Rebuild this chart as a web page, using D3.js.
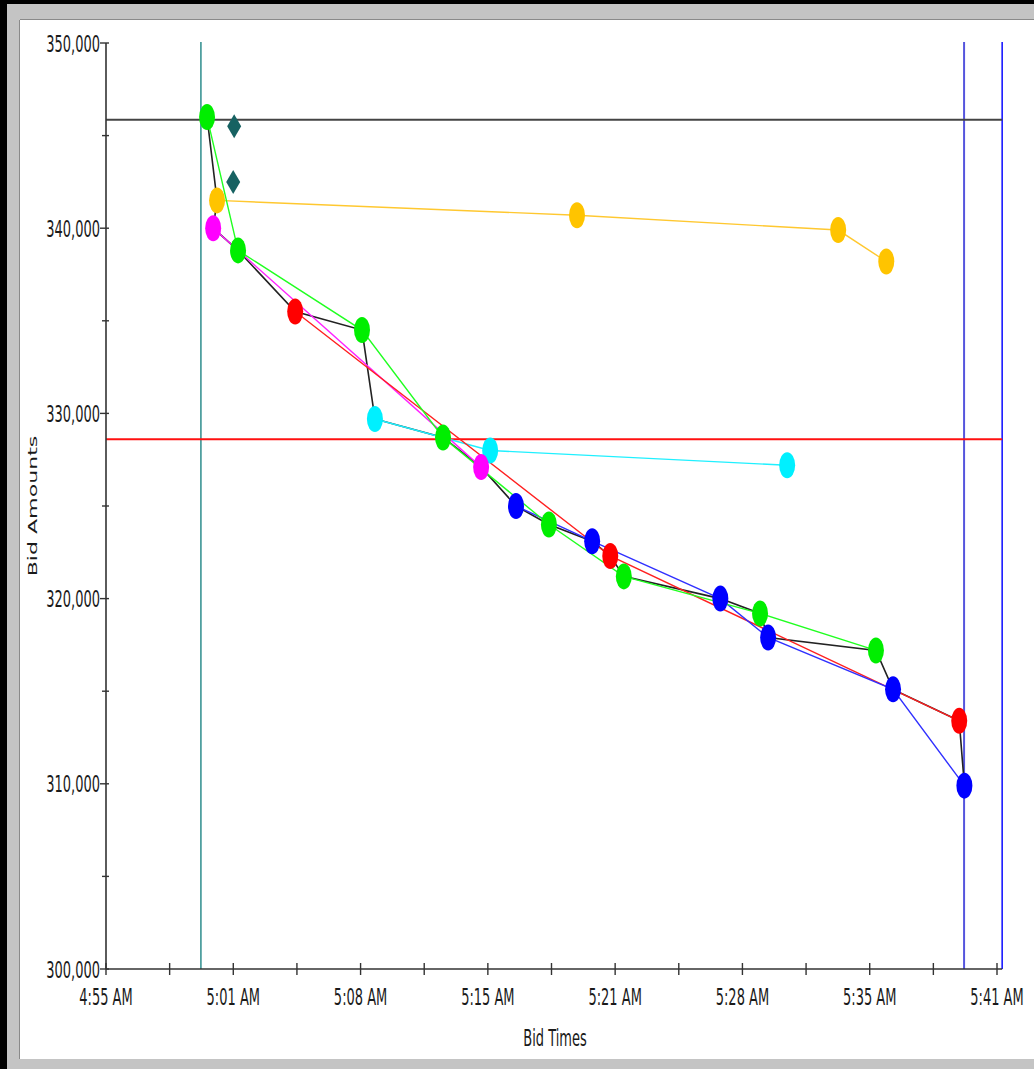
<!DOCTYPE html>
<html>
<head>
<meta charset="utf-8">
<script src="https://cdn.jsdelivr.net/npm/d3@7/dist/d3.min.js"></script>
<style>
  html, body { margin: 0; padding: 0; background: #000; }
  svg { display: block; }
  text { font-family: "DejaVu Sans", Verdana, sans-serif; fill: #1a1a1a; }
</style>
</head>
<body>
<svg id="chart" width="1034" height="1069"></svg>
<script>
// ---------------- DATA ----------------
const xStart = "4:55:00";
const xEnd = "5:41:00";
const xTickCount = 14;
const xTickLabels = ["4:55 AM", "5:01 AM", "5:08 AM", "5:15 AM", "5:21 AM", "5:28 AM", "5:35 AM", "5:41 AM"];
const yMin = 300000, yMax = 350000;
const yMajorTicks = [300000, 310000, 320000, 330000, 340000, 350000];
const yMinorTicks = [305000, 315000, 325000, 335000, 345000];

const greenTimes = ["5:00:13", "5:01:49", "5:08:13", "5:12:24", "5:17:52", "5:21:44", "5:28:46", "5:34:45"];
const greenBids  = [346000, 338800, 334500, 328700, 324000, 321200, 319200, 317200];

const orangeTimes = ["5:00:44", "5:19:19", "5:32:48", "5:35:17"];
const orangeBids  = [341500, 340700, 339900, 338200];

const magentaTimes = ["5:00:32", "5:14:22"];
const magentaBids  = [340000, 327100];

const redTimes = ["5:04:46", "5:21:02", "5:39:03"];
const redBids  = [335500, 322300, 313400];

const cyanTimes = ["5:08:53", "5:14:50", "5:30:10"];
const cyanBids  = [329700, 328000, 327200];

const blueTimes = ["5:16:10", "5:20:06", "5:26:43", "5:29:11", "5:35:38", "5:39:19"];
const blueBids  = [325000, 323100, 320000, 317900, 315100, 309900];

const diamondTimes = ["5:01:37", "5:01:34"];
const diamondBids  = [345500, 342500];

// leading (lowest) bid line
const leadTimes = ["5:00:13", "5:00:44", "5:00:32", "5:01:49", "5:04:46", "5:08:13", "5:08:53", "5:12:24", "5:14:22",
                   "5:16:10", "5:17:52", "5:20:06", "5:21:02", "5:21:44", "5:26:43", "5:28:46", "5:29:11", "5:34:45",
                   "5:35:38", "5:39:03", "5:39:19"];
const leadBids  = [346000, 341500, 340000, 338800, 335500, 334500, 329700, 328700, 327100,
                   325000, 324000, 323100, 322300, 321200, 320000, 319200, 317900, 317200,
                   315100, 313400, 309900];

const refHorizontalBids = [345850, 328600];
const refVerticalTimes = ["4:59:54", "5:39:18", "5:41:16"];

// ---------------- DRAW ----------------
const parse = d3.timeParse("%H:%M:%S");
const svg = d3.select("#chart");

// frame
svg.append("rect").attr("x", 7).attr("y", 4).attr("width", 1027).attr("height", 1065).attr("fill", "#c4c4c4");
svg.append("rect").attr("x", 20).attr("y", 20).attr("width", 1014).attr("height", 1039).attr("fill", "#ffffff");
svg.append("line").attr("x1", 19.5).attr("y1", 20).attr("x2", 19.5).attr("y2", 1059).attr("stroke", "#8a8a8a").attr("stroke-width", 1);
svg.append("line").attr("x1", 20).attr("y1", 19.5).attr("x2", 1034).attr("y2", 19.5).attr("stroke", "#8a8a8a").attr("stroke-width", 1);

const t0 = parse(xStart), t1 = parse(xEnd);
const x = d3.scaleTime().domain([t0, t1]).range([106, 997]);
const y = d3.scaleLinear().domain([yMin, yMax]).range([969, 43]);

const xAxisEnd = x(parse(refVerticalTimes[2]));

// reference vertical lines
const vColors = ["#3a9494", "#5555dd", "#1a1aff"];
const vWidths = [1.6, 2, 1.6];
refVerticalTimes.forEach((t, i) => {
  svg.append("line")
    .attr("x1", x(parse(t))).attr("x2", x(parse(t)))
    .attr("y1", y(yMax) - 1).attr("y2", y(yMin))
    .attr("stroke", vColors[i]).attr("stroke-width", vWidths[i]);
});

// reference horizontal lines
const hColors = ["#444444", "#ff1010"];
refHorizontalBids.forEach((b, i) => {
  svg.append("line")
    .attr("x1", 106).attr("x2", xAxisEnd)
    .attr("y1", y(b)).attr("y2", y(b))
    .attr("stroke", hColors[i]).attr("stroke-width", 2);
});

// axes
const axisG = svg.append("g");
axisG.append("line").attr("x1", 106).attr("x2", 106).attr("y1", y(yMax)).attr("y2", y(yMin))
  .attr("stroke", "#333").attr("stroke-width", 1.6);
axisG.append("line").attr("x1", 106).attr("x2", xAxisEnd).attr("y1", y(yMin)).attr("y2", y(yMin))
  .attr("stroke", "#333").attr("stroke-width", 1.6);

yMajorTicks.forEach(v => {
  axisG.append("line").attr("x1", 100).attr("x2", 109).attr("y1", y(v)).attr("y2", y(v))
    .attr("stroke", "#333").attr("stroke-width", 1.4);
  axisG.append("text")
    .attr("transform", `translate(100,${y(v) + 8.5}) scale(1,1.7)`)
    .attr("text-anchor", "end").attr("font-size", 13)
    .text(d3.format(",")(v));
});
yMinorTicks.forEach(v => {
  axisG.append("line").attr("x1", 102).attr("x2", 109).attr("y1", y(v)).attr("y2", y(v))
    .attr("stroke", "#333").attr("stroke-width", 1.4);
});

const xTickVals = d3.range(xTickCount + 1).map(i => new Date(+t0 + i * (t1 - t0) / xTickCount));
xTickVals.forEach((t, i) => {
  axisG.append("line").attr("x1", x(t)).attr("x2", x(t)).attr("y1", y(yMin) - 6).attr("y2", y(yMin) + 6)
    .attr("stroke", "#333").attr("stroke-width", 1.4);
  if (i % 2 === 0) {
    axisG.append("text")
      .attr("transform", `translate(${x(t)},1005) scale(1,1.7)`)
      .attr("text-anchor", "middle").attr("font-size", 13)
      .text(xTickLabels[i / 2]);
  }
});

svg.append("text")
  .attr("transform", "translate(555,1046) scale(1,1.7)")
  .attr("text-anchor", "middle").attr("font-size", 13)
  .text("Bid Times");
svg.append("text")
  .attr("transform", "translate(37,506) rotate(-90) scale(1.7,1)")
  .attr("text-anchor", "middle").attr("font-size", 13)
  .text("Bid Amounts");

// series
const series = [
  { times: orangeTimes, bids: orangeBids, color: "#ffc400", line: "#ffc830" },
  { times: cyanTimes, bids: cyanBids, color: "#00f0ff", line: "#20f0ff" },
  { times: magentaTimes, bids: magentaBids, color: "#ff00ff", line: "#ff20ff" },
  { times: redTimes, bids: redBids, color: "#ff0000", line: "#ff2020" },
  { times: blueTimes, bids: blueBids, color: "#0000ff", line: "#3030ff" },
  { times: greenTimes, bids: greenBids, color: "#00ee00", line: "#20ff20" }
];

const lineGen = d3.line().x(d => x(parse(d[0]))).y(d => y(d[1]));

// leading bid line (beneath the series lines)
svg.append("path")
  .attr("d", lineGen(d3.zip(leadTimes, leadBids)))
  .attr("fill", "none").attr("stroke", "#222").attr("stroke-width", 1.6);

series.forEach(s => {
  svg.append("path")
    .attr("d", lineGen(d3.zip(s.times, s.bids)))
    .attr("fill", "none").attr("stroke", s.line).attr("stroke-width", 1.4);
});

// markers
series.forEach(s => {
  svg.append("g").selectAll("ellipse")
    .data(d3.zip(s.times, s.bids))
    .join("ellipse")
    .attr("cx", d => x(parse(d[0])))
    .attr("cy", d => y(d[1]))
    .attr("rx", 8).attr("ry", 13)
    .attr("fill", s.color);
});

// diamonds
svg.append("g").selectAll("path")
  .data(d3.zip(diamondTimes, diamondBids))
  .join("path")
  .attr("transform", d => `translate(${x(parse(d[0]))},${y(d[1])})`)
  .attr("d", "M0,-12 L7,0 L0,12 L-7,0 Z")
  .attr("fill", "#176262");
</script>
</body>
</html>
